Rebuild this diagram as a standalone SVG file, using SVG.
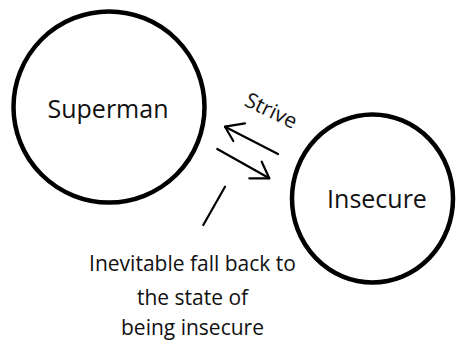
<svg xmlns="http://www.w3.org/2000/svg" width="456" height="345" viewBox="0 0 456 345">
  <style>
    .ring { fill: #fff; stroke: #000; stroke-width: 4.5; }
    .lbl { font-family: "Open Sans", "Noto Sans", sans-serif; fill: #111; text-anchor: middle; }
    .big { font-size: 25px; }
    .small { font-size: 21px; }
    .wire { fill: none; stroke: #000; stroke-width: 2.2; stroke-linecap: round; stroke-linejoin: round; }
  </style>
  <rect width="456" height="345" fill="#fff"/>

  <g id="superman">
    <circle class="ring" cx="109" cy="107" r="95.5"/>
    <text class="lbl big" x="108" y="118">Superman</text>
  </g>

  <g id="insecure">
    <ellipse class="ring" cx="372.5" cy="198.5" rx="80.5" ry="84"/>
    <text class="lbl big" x="377" y="208">Insecure</text>
  </g>

  <g id="connectors">
    <!-- strive: towards Superman -->
    <line class="wire" x1="278" y1="154" x2="225" y2="126.7"/>
    <polyline class="wire" points="245,123.3 225,126.7 233.3,141"/>
    <!-- back towards Insecure -->
    <line class="wire" x1="217.3" y1="149" x2="269.3" y2="178.3"/>
    <polyline class="wire" points="249.3,178.3 269.3,178.3 261.7,161.7"/>
    <!-- pointer to the caption -->
    <line class="wire" x1="225" y1="186.7" x2="203.3" y2="225"/>
    <text class="lbl small" transform="translate(268 117) rotate(26)" x="0" y="0">Strive</text>
  </g>

  <g id="caption">
    <text class="lbl small" x="192.5" y="271">Inevitable fall back to</text>
    <text class="lbl small" x="192.5" y="305">the state of</text>
    <text class="lbl small" x="192.5" y="335">being insecure</text>
  </g>
</svg>
